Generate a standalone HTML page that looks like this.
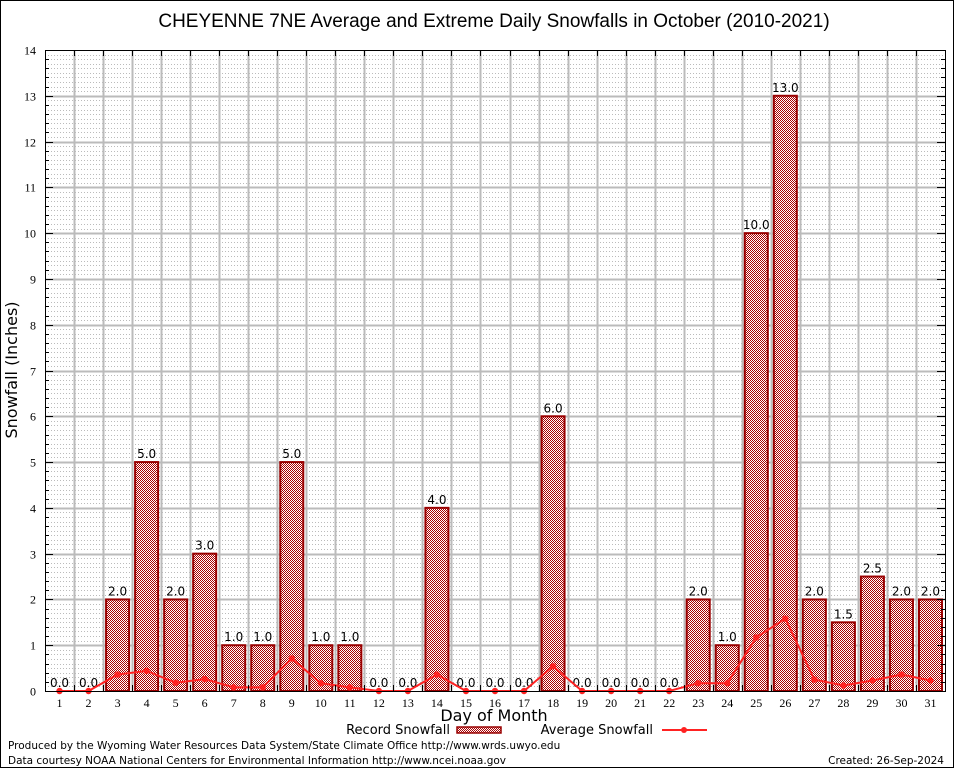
<!DOCTYPE html>
<html><head><meta charset="utf-8"><style>
html,body{margin:0;padding:0;background:#fff}
svg{display:block;font-family:"DejaVu Sans",sans-serif}
</style></head><body>
<svg id="chart" width="954" height="768" viewBox="0 0 954 768">
<defs>
<pattern id="hatch" width="2" height="2" patternUnits="userSpaceOnUse">
<rect width="2" height="2" fill="#fff"/><rect width="1" height="1" fill="#a00"/><rect x="1" y="1" width="1" height="1" fill="#a00"/>
</pattern>
</defs>
<rect x="0.5" y="0.5" width="953" height="767" fill="#fff" stroke="#000"/>
<text x="494" y="27" text-anchor="middle" font-size="19" font-family="Liberation Sans, sans-serif">CHEYENNE 7NE Average and Extreme Daily Snowfalls in October (2010-2021)</text>
<g id="grid"></g>
<g id="bars"></g>
<g id="line"></g>
<rect x="45.5" y="50.5" width="900" height="641" fill="none" stroke="#000"/>
<g id="axes"></g>
<text x="17" y="370" transform="rotate(-90 17 370)" text-anchor="middle" font-size="16">Snowfall (Inches)</text>
<text x="494" y="721" text-anchor="middle" font-size="16">Day of Month</text>
<g>
<text x="450" y="734" text-anchor="end" font-size="13">Record Snowfall</text>
<rect x="457" y="727" width="44" height="6" fill="url(#hatch)" stroke="#900" stroke-width="1.5"/>
<text x="653" y="734" text-anchor="end" font-size="13">Average Snowfall</text>
<line x1="662" y1="730" x2="707" y2="730" stroke="#f22" stroke-width="2"/>
<circle cx="684" cy="730" r="3" fill="#f22"/>
</g>
<text x="8" y="749" font-size="10.5">Produced by the Wyoming Water Resources Data System/State Climate Office http://www.wrds.uwyo.edu</text>
<text x="8" y="764" font-size="10.5">Data courtesy NOAA National Centers for Environmental Information http://www.ncei.noaa.gov</text>
<text x="944" y="764" text-anchor="end" font-size="10.5">Created: 26-Sep-2024</text>
</svg>
<script>
const days = [1,2,3,4,5,6,7,8,9,10,11,12,13,14,15,16,17,18,19,20,21,22,23,24,25,26,27,28,29,30,31];
const recordSnow = [0,0,2,5,2,3,1,1,5,1,1,0,0,4,0,0,0,6,0,0,0,0,2,1,10,13,2,1.5,2.5,2,2];
const avgSnow = [0,0,0.36,0.44,0.18,0.26,0.08,0.08,0.71,0.17,0.08,0,0,0.36,0,0,0,0.54,0,0,0,0,0.17,0.17,1.17,1.58,0.25,0.12,0.23,0.36,0.23];
const yTicks = [0,1,2,3,4,5,6,7,8,9,10,11,12,13,14];

const NS="http://www.w3.org/2000/svg";
const X0=45, X1=945, Y0=691, Y1=50, YMAX=14;
const xs = d => X0 + (X1-X0)/31*(d-0.5);
const ys = v => Y0 - (Y0-Y1)*v/YMAX;
function mk(tag, attrs, parent){const e=document.createElementNS(NS,tag);for(const k in attrs)e.setAttribute(k,attrs[k]);parent.appendChild(e);return e;}
const grid=document.getElementById('grid'), bars=document.getElementById('bars'), line=document.getElementById('line'), axes=document.getElementById('axes');

for(let i=1;i<YMAX*10;i++){ if(i%10===0) continue;
  const y=Math.round(ys(i/10))+0.5;
  const l=mk('line',{x1:X0,x2:X1,y1:y,y2:y,stroke:'#bbb','stroke-width':1,'stroke-dasharray':'1,2'},grid);
  
  
}
yTicks.forEach(t=>{
  const y=Math.round(ys(t))+0.5;
  if(t>0 && t<YMAX){const l=mk('line',{x1:X0,x2:X1,y1:y,y2:y,stroke:'#bbb','stroke-width':2},grid);
  
  }
  const tx=mk('text',{x:36,y:y+4,'text-anchor':'end','font-size':12,'font-family':'Liberation Serif, serif'},axes);
  tx.textContent=t;
  
  
  mk('line',{x1:X0,x2:X0+8,y1:y,y2:y,stroke:'#000'},axes);
  mk('line',{x1:X1-8,x2:X1,y1:y,y2:y,stroke:'#000'},axes);
});
for(let i=1;i<YMAX*5;i++){ if(i%5===0) continue; const y=Math.round(ys(i/5))+0.5;
  mk('line',{x1:X0,x2:X0+4,y1:y,y2:y,stroke:'#000'},axes);
  mk('line',{x1:X1-4,x2:X1,y1:y,y2:y,stroke:'#000'},axes);
}
for(let d=1; d<31; d++){
  const x=Math.round(xs(d+0.5))+0.5;
  const l=mk('line',{x1:x,x2:x,y1:Y1,y2:Y0,stroke:'#bbb','stroke-width':2},grid);
  
  
  mk('line',{x1:x,x2:x,y1:Y1,y2:Y1+6,stroke:'#000'},axes);
  mk('line',{x1:x,x2:x,y1:Y0-6,y2:Y0,stroke:'#000'},axes);
}
days.forEach((d,i)=>{
  const v=recordSnow[i], cx=xs(d);
  if(v>0){
    const r=mk('rect',{x:cx-11.5,y:ys(v),width:23,height:Y0-ys(v),fill:'url(#hatch)',stroke:'#900','stroke-width':2},bars);
    
    
  }
  const t=mk('text',{x:cx,y:ys(v)-4,'text-anchor':'middle','font-size':12},bars);
  t.textContent=v.toFixed(1);
  
  
  const xl=mk('text',{x:cx,y:707,'text-anchor':'middle','font-size':12,'font-family':'Liberation Serif, serif'},axes);
  xl.textContent=d;
  
  
});
const pts=days.map((d,i)=>xs(d)+','+ys(avgSnow[i])).join(' ');
const pl=mk('polyline',{points:pts,fill:'none',stroke:'#f22','stroke-width':2},line);


days.forEach((d,i)=>{
  const c=mk('circle',{cx:xs(d),cy:ys(avgSnow[i]),r:3.2,fill:'#f22'},line);
  
  
});
</script>
</body></html>
